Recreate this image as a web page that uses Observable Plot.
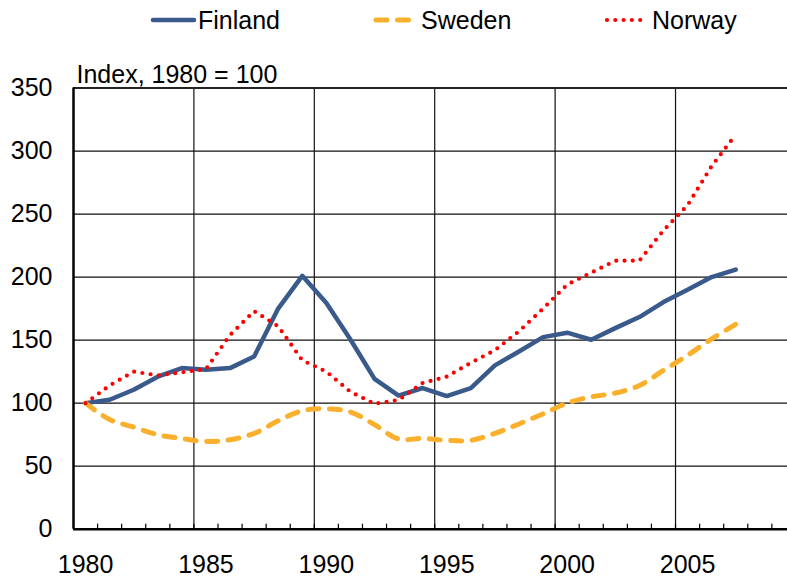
<!DOCTYPE html>
<html>
<head>
<meta charset="utf-8">
<script src="https://cdn.jsdelivr.net/npm/d3@7"></script>
<script src="https://cdn.jsdelivr.net/npm/@observablehq/plot@0.6"></script>
<style>
  html, body { margin: 0; padding: 0; background: #fff; }
  body { width: 787px; height: 579px; overflow: hidden; font-family: "Liberation Sans", Arial, sans-serif; }
  #legend { position: relative; height: 40px; font-size: 25px; color: #000; }
  .item { position: absolute; top: 8px; height: 25px; line-height: 25px; white-space: nowrap; }
  .item svg { position: absolute; top: 0; }
  .item span { position: absolute; top: 0; }
  #chart svg { overflow: visible; display: block; }
</style>
</head>
<body>
<div id="legend"></div>
<div id="chart"></div>
<script>
// ---- data ----
const years = [1980, 1981, 1982, 1983, 1984, 1985, 1986, 1987, 1988, 1989,
               1990, 1991, 1992, 1993, 1994, 1995, 1996, 1997, 1998, 1999,
               2000, 2001, 2002, 2003, 2004, 2005, 2006, 2007];
const finland = [100, 102.7, 110.6, 121, 127.8, 126.5, 127.8, 137, 175, 201,
                 179.4, 150.5, 119.3, 106, 112, 105.6, 112, 130, 141, 152.4,
                 155.9, 150.3, 159.5, 168.3, 180.2, 190, 200, 206];
const sweden = [100, 87, 81, 75, 72, 69.6, 71, 76, 86, 94,
                95.5, 93, 83, 71.5, 72, 70.5, 70.5, 76, 83.5, 91.5,
                100, 105, 108, 114, 126, 138, 151, 162.5];
const norway = [100, 114, 125, 122, 124.5, 127, 154, 173, 161, 134,
                125, 109, 99.5, 102.5, 116, 121, 132, 142, 157, 175,
                194, 203.5, 213, 213, 237, 257, 288, 313];
const seriesNames = ["Finland", "Sweden", "Norway"];
const xTickLabels = [1980, 1985, 1990, 1995, 2000, 2005];
const yTickLabels = [0, 50, 100, 150, 200, 250, 300, 350];
const axisTitle = "Index, 1980 = 100";

// ---- styles / layout ----
const colors = {Finland: "#3a5a8c", Sweden: "#fbb02d", Norway: "#ff0000"};
const legendLeft = {Finland: 150, Sweden: 373, Norway: 604};
const lineStyles = {
  Finland: {w: 4.5, dash: null},
  Sweden: {w: 5, dash: "11,10.5"},
  Norway: {w: 4.2, dash: "0,8.3"}
};

const table = years.map((year, i) => ({year, Finland: finland[i], Sweden: sweden[i], Norway: norway[i]}));
const firstYear = years[0];
const boundaries = d3.range(firstYear - 0.5, 2009, 1);
const gridX = boundaries.filter(b => (b + 0.5 - firstYear) % 5 === 0 && b > firstYear);

// ---- legend ----
const legend = document.getElementById("legend");
for (const name of seriesNames) {
  const it = document.createElement("div");
  it.className = "item";
  it.style.left = legendLeft[name] + "px";
  const s = lineStyles[name];
  it.innerHTML = `<svg width="48" height="25"><line x1="3" x2="44" y1="12" y2="12" stroke="${colors[name]}" stroke-width="${s.w}" stroke-linecap="round" ${s.dash ? `stroke-dasharray="${s.dash}"` : ""}/></svg><span style="left:48px">${name}</span>`;
  legend.appendChild(it);
}

// ---- chart ----
const chart = Plot.plot({
  width: 787,
  height: 539,
  marginLeft: 73,
  marginRight: 0,
  marginTop: 47.5,
  marginBottom: 50.3,
  style: {fontFamily: "'Liberation Sans', Arial, sans-serif", fontSize: "25px", color: "#000", background: "#fff", overflow: "visible"},
  x: {domain: [1979.5, 2009.15]},
  y: {domain: [0, 350]},
  marks: [
    Plot.ruleY(yTickLabels.filter(v => v > 0 && v < 350), {stroke: "#111", strokeWidth: 1.2}),
    Plot.ruleX(gridX, {stroke: "#111", strokeWidth: 1.2}),
    Plot.ruleY([350], {stroke: "#222", strokeWidth: 1.8}),
    Plot.ruleX(boundaries.slice(1), {y1: 0, y2: 4, stroke: "#000", strokeWidth: 1.2}),
    Plot.line(table, {x: "year", y: "Finland", stroke: colors.Finland, strokeWidth: lineStyles.Finland.w, strokeLinejoin: "round"}),
    Plot.line(table, {x: "year", y: "Sweden", stroke: colors.Sweden, strokeWidth: lineStyles.Sweden.w, strokeDasharray: lineStyles.Sweden.dash, strokeLinecap: "round", curve: "catmull-rom"}),
    Plot.line(table, {x: "year", y: "Norway", stroke: colors.Norway, strokeWidth: lineStyles.Norway.w, strokeDasharray: lineStyles.Norway.dash, strokeLinecap: "round"}),
    Plot.ruleX([1979.5], {stroke: "#000", strokeWidth: 2.5}),
    Plot.ruleY([0], {stroke: "#000", strokeWidth: 2.5}),
    Plot.axisY({ticks: yTickLabels, tickSize: 0, tickPadding: 21, fontSize: 25, label: null}),
    Plot.axisX({ticks: xTickLabels, tickSize: 0, tickPadding: 26, fontSize: 25, tickFormat: d => String(d), label: null}),
    Plot.text([axisTitle], {frameAnchor: "top-left", dx: 3, dy: -5, textAnchor: "start", lineAnchor: "bottom", fontSize: 25, fill: "#000"})
  ]
});
document.getElementById("chart").appendChild(chart);
</script>
</body>
</html>
